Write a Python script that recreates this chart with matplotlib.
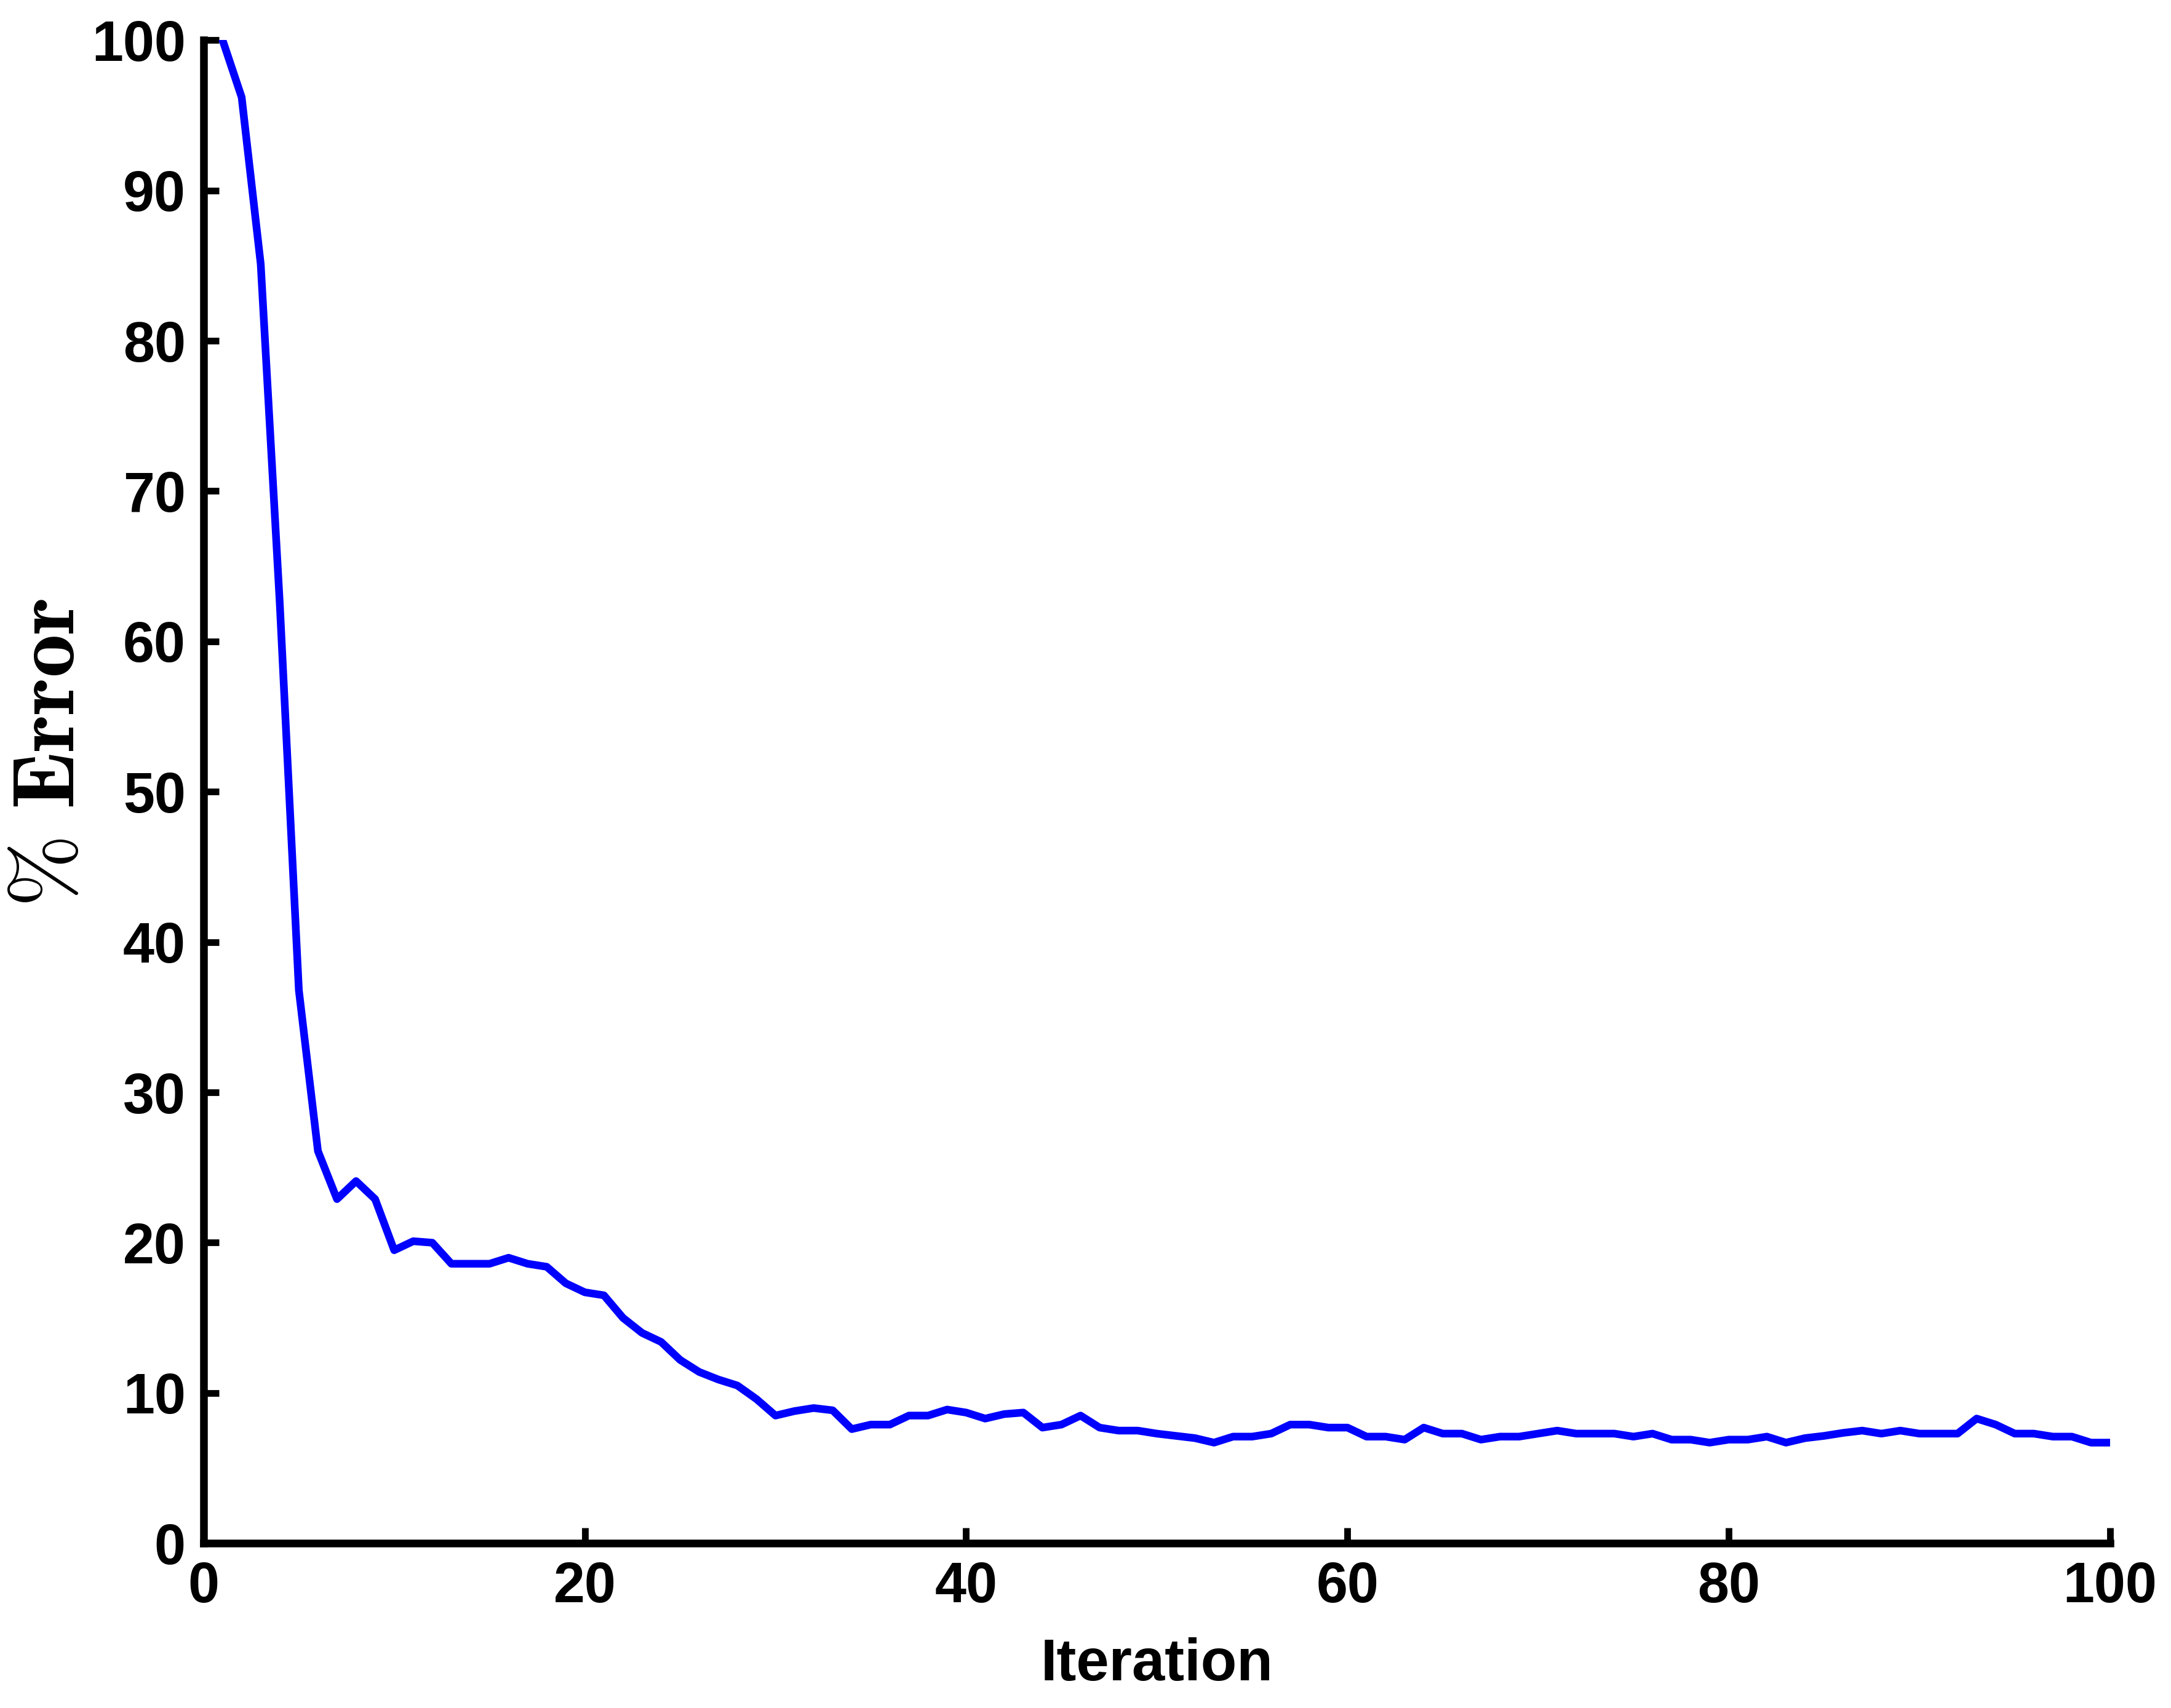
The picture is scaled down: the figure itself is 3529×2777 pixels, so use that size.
import matplotlib
matplotlib.use("Agg")
import matplotlib.pyplot as plt
import numpy as np

# % error per iteration
iterations = np.arange(1, 101)
err = [100, 96.2, 85.1, 62.5, 36.8, 26.1, 22.9, 24.1, 22.9, 19.5,
       20.1, 20.0, 18.6, 18.6, 18.6, 19.0, 18.6, 18.4, 17.3, 16.7,
       16.5, 15.0, 14.0, 13.4, 12.2, 11.4, 10.9, 10.5, 9.6, 8.5,
       8.8, 9.0, 8.85, 7.6, 7.9, 7.9, 8.5, 8.5, 8.9, 8.7,
       8.3, 8.6, 8.7, 7.7, 7.9, 8.5, 7.7, 7.5, 7.5, 7.3,
       7.15, 7.0, 6.7, 7.1, 7.1, 7.3, 7.9, 7.9, 7.7, 7.7,
       7.1, 7.1, 6.9, 7.7, 7.3, 7.3, 6.9, 7.1, 7.1, 7.3,
       7.5, 7.3, 7.3, 7.3, 7.1, 7.3, 6.9, 6.9, 6.7, 6.9,
       6.9, 7.1, 6.7, 7.0, 7.15, 7.35, 7.5, 7.3, 7.5, 7.3,
       7.3, 7.3, 8.3, 7.9, 7.3, 7.3, 7.1, 7.1, 6.7, 6.7]

xticks = [0, 20, 40, 60, 80, 100]
yticks = list(range(0, 101, 10))

plt.rcParams['font.family'] = ['Liberation Sans', 'DejaVu Sans']
plt.rcParams['font.weight'] = 'bold'
plt.rcParams['mathtext.fontset'] = 'cm'

fig = plt.figure(figsize=(3529 / 300, 2777 / 300), dpi=300)
ax = fig.add_axes([0.09375, 0.0964, 0.97194 - 0.09375, 0.9765 - 0.0964])

ax.plot(iterations, err, color=(0, 0, 1), lw=3)

ax.set_xlim(0, 100)
ax.set_ylim(0, 100)
ax.set_xticks(xticks)
ax.set_yticks(yticks)

for side in ['top', 'right']:
    ax.spines[side].set_visible(False)
for side in ['left', 'bottom']:
    ax.spines[side].set_linewidth(3)

ax.tick_params(direction='in', length=6, width=2.6, labelsize=22, pad=7)
for lab in ax.get_xticklabels() + ax.get_yticklabels():
    lab.set_fontweight('bold')

ax.set_xlabel('Iteration', fontsize=23, fontweight='bold', labelpad=9)
ax.set_ylabel(r'$\%\ \mathbf{Error}$', fontsize=34, va='center')
ax.yaxis.set_label_coords(-0.080, 0.526)

fig.savefig('out.png', dpi=300)
